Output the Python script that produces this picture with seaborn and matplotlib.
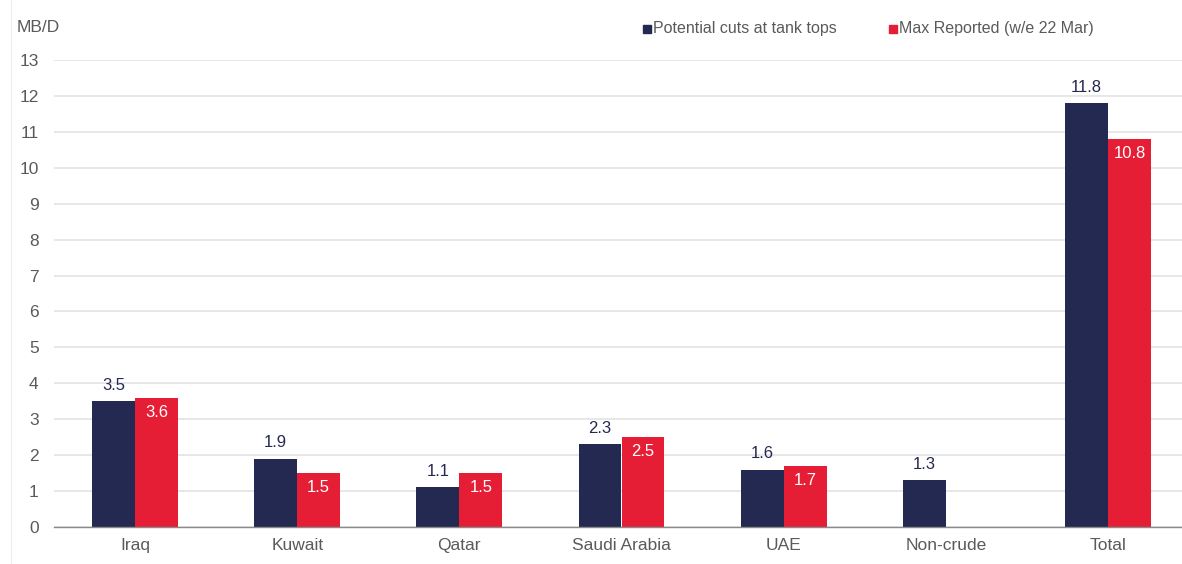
import matplotlib
matplotlib.use("Agg")
import matplotlib.pyplot as plt
import seaborn as sns
import pandas as pd
import numpy as np
from matplotlib.lines import Line2D
from matplotlib.ticker import FixedLocator

categories = ["Iraq", "Kuwait", "Qatar", "Saudi Arabia", "UAE", "Non-crude", "Total"]
potential_cuts = [3.5, 1.9, 1.1, 2.3, 1.6, 1.3, 11.8]
max_reported = [3.6, 1.5, 1.5, 2.5, 1.7, np.nan, 10.8]
series_names = ["Potential cuts at tank tops", "Max Reported (w/e 22 Mar)"]
y_ticks = list(range(0, 14))

NAVY = "#232950"
RED = "#E61E35"
GRAY = "#5a5a5a"

sns.set_theme(style="white")
plt.rcParams["font.family"] = ["Liberation Sans", "DejaVu Sans"]

df = pd.DataFrame({
    "category": categories * 2,
    "value": potential_cuts + max_reported,
    "series": [series_names[0]] * len(categories) + [series_names[1]] * len(categories),
})

W, H = 1182, 564
fig = plt.figure(figsize=(W / 100, H / 100), dpi=100)
left, right, top, bottom = 54, 1189, 60, 527
ax = fig.add_axes([left / W, 1 - bottom / H, (right - left) / W, (bottom - top) / H])

sns.barplot(data=df, x="category", y="value", hue="series", order=categories,
            hue_order=series_names, palette=[NAVY, RED], width=0.53,
            saturation=1, ax=ax, legend=False, linewidth=0)

ax.set_xlim(-0.5, len(categories) - 0.5)
ax.set_ylim(0, 13)
ax.set_yticks(y_ticks)
ax.yaxis.grid(True, color="#e3e3e3", linewidth=1.2)
ax.set_axisbelow(True)
for s in ["top", "right", "left"]:
    ax.spines[s].set_visible(False)
ax.spines["bottom"].set_color("#8a8a8a")
ax.spines["bottom"].set_linewidth(1.0)

ax.tick_params(axis="y", length=0, labelsize=12.5, labelcolor=GRAY, pad=11)
ax.tick_params(axis="x", which="major", length=0, labelsize=12.5, labelcolor=GRAY, pad=8)
ax.xaxis.set_minor_locator(FixedLocator(np.arange(-0.5, len(categories) - 0.4, 1.0)))
ax.tick_params(axis="x", which="minor", length=5, color="#8a8a8a", width=1)
ax.set_xlabel("")
ax.set_ylabel("")

# bar labels
for i, cont in enumerate(ax.containers):
    for bar in cont:
        h = bar.get_height()
        if np.isnan(h) or h == 0:
            continue
        x = bar.get_x() + bar.get_width() / 2
        if i == 0:
            ax.annotate(f"{h:.1f}", (x, h), xytext=(0, 6), textcoords="offset points",
                        ha="center", va="bottom", fontsize=12, color=NAVY)
        else:
            ax.annotate(f"{h:.1f}", (x, h), xytext=(0, -5), textcoords="offset points",
                        ha="center", va="top", fontsize=12, color="white")

fig.text(17 / W, 1 - 27 / H, "MB/D", fontsize=12.5, color=GRAY, ha="left", va="center")

# legend
fig.patches.append(plt.Rectangle((643 / W, 1 - 33 / H), 8 / W, 8 / H,
                                 transform=fig.transFigure, color=NAVY))
fig.text(653 / W, 1 - 28 / H, series_names[0], fontsize=11.5, color=GRAY, ha="left", va="center")
fig.patches.append(plt.Rectangle((889 / W, 1 - 33 / H), 8 / W, 8 / H,
                                 transform=fig.transFigure, color=RED))
fig.text(899 / W, 1 - 28 / H, series_names[1], fontsize=11.5, color=GRAY, ha="left", va="center")

fig.add_artist(Line2D([11 / W, 11 / W], [0, 1], transform=fig.transFigure,
                      color="#f0f0f0", linewidth=1))

fig.savefig("out.png", dpi=100)
